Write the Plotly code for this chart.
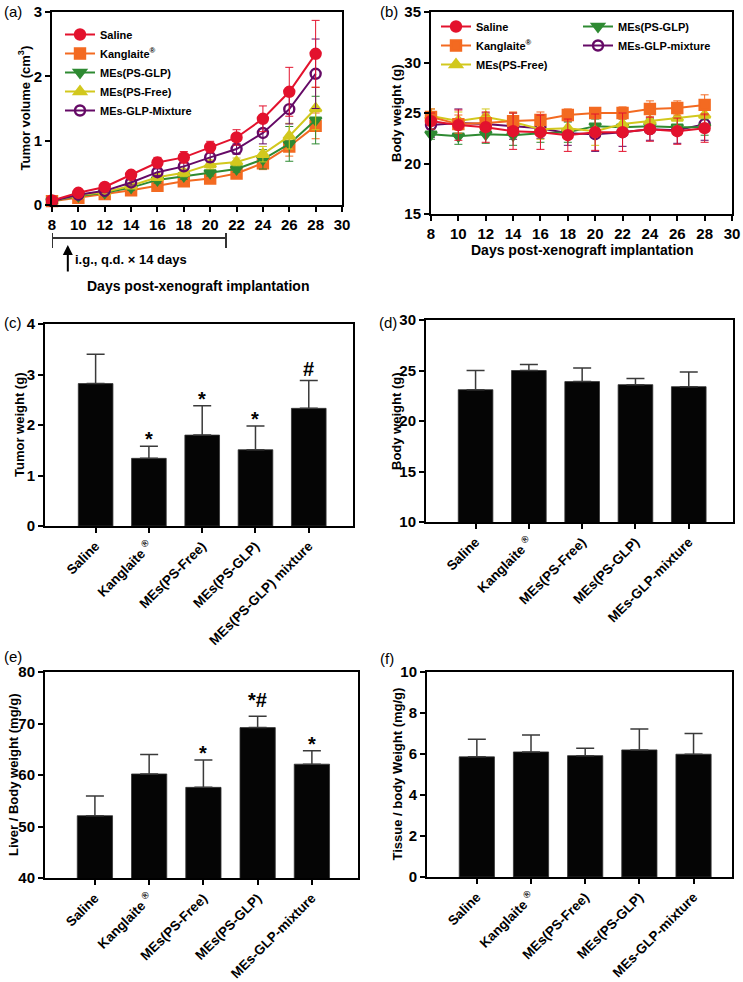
import plotly.graph_objects as go

# ---------------- data ----------------
days = [8, 10, 12, 14, 16, 18, 20, 22, 24, 26, 28]
day_ticks = [8, 10, 12, 14, 16, 18, 20, 22, 24, 26, 28, 30]

# (a) tumor volume (cm3)
vol_saline = [0.07, 0.19, 0.28, 0.47, 0.66, 0.74, 0.90, 1.05, 1.34, 1.76, 2.35]
vol_saline_err = [0.02, 0.03, 0.04, 0.05, 0.08, 0.09, 0.09, 0.12, 0.20, 0.38, 0.52]
vol_kang = [0.06, 0.11, 0.17, 0.23, 0.30, 0.37, 0.41, 0.49, 0.65, 0.91, 1.23]
vol_kang_err = [0.02, 0.02, 0.03, 0.03, 0.04, 0.04, 0.04, 0.05, 0.10, 0.15, 0.20]
vol_glp = [0.06, 0.14, 0.19, 0.27, 0.39, 0.45, 0.50, 0.56, 0.71, 0.95, 1.32]
vol_glp_err = [0.02, 0.02, 0.03, 0.04, 0.05, 0.05, 0.05, 0.05, 0.15, 0.27, 0.37]
vol_free = [0.06, 0.15, 0.20, 0.30, 0.43, 0.50, 0.63, 0.67, 0.79, 1.07, 1.50]
vol_free_err = [0.02, 0.02, 0.03, 0.04, 0.05, 0.06, 0.07, 0.06, 0.12, 0.20, 0.33]
vol_mix = [0.06, 0.16, 0.22, 0.35, 0.51, 0.60, 0.74, 0.87, 1.12, 1.49, 2.04]
vol_mix_err = [0.02, 0.02, 0.03, 0.04, 0.05, 0.06, 0.07, 0.08, 0.17, 0.23, 0.54]

# (b) body weight (g)
bw_saline = [24.2, 23.8, 23.6, 23.2, 23.1, 22.8, 23.1, 23.1, 23.4, 23.2, 23.5]
bw_saline_err = [0.8, 1.5, 1.5, 1.8, 1.7, 1.6, 1.8, 1.9, 1.2, 1.3, 1.4]
bw_kang = [24.6, 23.9, 24.0, 24.2, 24.3, 24.8, 25.0, 25.0, 25.4, 25.5, 25.8]
bw_kang_err = [0.8, 0.9, 0.8, 0.9, 0.8, 0.6, 0.5, 0.6, 0.8, 0.7, 1.0]
bw_glp = [22.9, 22.7, 22.9, 22.8, 23.0, 23.1, 23.7, 23.6, 23.7, 23.6, 23.6]
bw_glp_err = [0.5, 0.8, 0.9, 1.0, 0.9, 1.0, 0.7, 0.8, 0.7, 0.8, 0.8]
bw_free = [24.7, 24.2, 24.6, 24.1, 23.4, 23.5, 23.2, 23.9, 24.2, 24.5, 24.8]
bw_free_err = [0.7, 0.9, 0.8, 0.9, 1.0, 1.0, 1.4, 1.0, 0.9, 0.8, 0.9]
bw_mix = [23.8, 24.0, 23.9, 23.7, 23.5, 23.0, 22.9, 23.1, 23.4, 23.3, 23.9]
bw_mix_err = [1.2, 1.4, 1.1, 1.3, 1.0, 1.2, 1.7, 1.4, 1.1, 1.3, 1.6]

# bar panels
cats_c = ["Saline", "Kanglaite <sup>®</sup>", "MEs(PS-Free)", "MEs(PS-GLP)", "MEs(PS-GLP) mixture"]
cats_def = ["Saline", "Kanglaite <sup>®</sup>", "MEs(PS-Free)", "MEs(PS-GLP)", "MEs-GLP-mixture"]

tumor_w = [2.82, 1.34, 1.80, 1.51, 2.33]
tumor_w_err = [0.58, 0.24, 0.58, 0.47, 0.55]
tumor_w_sig = ["", "*", "*", "*", "#"]

body_w = [23.1, 25.0, 23.9, 23.6, 23.4]
body_w_err = [1.9, 0.6, 1.35, 0.6, 1.45]

liver_r = [52.1, 60.2, 57.6, 69.2, 62.1]
liver_r_err = [3.8, 3.8, 5.3, 2.2, 2.6]
liver_sig = ["", "", "*", "*#", "*"]

tissue_r = [5.86, 6.10, 5.92, 6.20, 5.99]
tissue_r_err = [0.86, 0.83, 0.36, 1.02, 1.01]

# y tick values
yt_a = [0, 1, 2, 3]
yt_b = [15, 20, 25, 30, 35]
yt_c = [0, 1, 2, 3, 4]
yt_d = [10, 15, 20, 25, 30]
yt_e = [40, 50, 60, 70, 80]
yt_f = [0, 2, 4, 6, 8, 10]

# treatment bracket (days)
treat_start, treat_end, arrow_day = 8, 21.2, 9.2

# ---------------- styling ----------------
W, H = 743, 982
FONT = "Liberation Sans, Arial, sans-serif"
C_SAL, C_KAN, C_GLP, C_FREE, C_MIX = "#E3122D", "#F36A21", "#2E8A32", "#D2C81E", "#650A66"
SIG_SHIFT = {"*": -6, "#": -1, "*#": 3}


def px_x(p):
    return p / W


def px_y(p):
    return 1 - p / H


def bold(vals):
    return ["<b>%s</b>" % v for v in vals]


fig = go.Figure()

series_a = [
    ("Saline", vol_saline, vol_saline_err, C_SAL, "circle"),
    ("Kanglaite<sup>®</sup>", vol_kang, vol_kang_err, C_KAN, "square"),
    ("MEs(PS-GLP)", vol_glp, vol_glp_err, C_GLP, "triangle-down"),
    ("MEs(PS-Free)", vol_free, vol_free_err, C_FREE, "triangle-up"),
    ("MEs-GLP-Mixture", vol_mix, vol_mix_err, C_MIX, "circle-open"),
]
for i in [1, 2, 3, 4, 0]:
    name, y, e, c, sym = series_a[i]
    fig.add_trace(go.Scatter(
        x=days, y=y, name="<b>%s</b>" % name, mode="lines+markers", xaxis="x", yaxis="y",
        line=dict(color=c, width=2),
        marker=dict(symbol=sym, size=10, color=c, line=dict(color=c, width=2.4)),
        error_y=dict(type="data", array=e, color=c, thickness=1, width=4),
        legend="legend", legendrank=i + 1, cliponaxis=False,
    ))

series_b = [
    ("Saline", bw_saline, bw_saline_err, C_SAL, "circle", "legend2"),
    ("Kanglaite<sup>®</sup>", bw_kang, bw_kang_err, C_KAN, "square", "legend2"),
    ("MEs(PS-Free)", bw_free, bw_free_err, C_FREE, "triangle-up", "legend2"),
    ("MEs(PS-GLP)", bw_glp, bw_glp_err, C_GLP, "triangle-down", "legend3"),
    ("MEs-GLP-mixture", bw_mix, bw_mix_err, C_MIX, "circle-open", "legend3"),
]
for i in [4, 3, 2, 1, 0]:
    name, y, e, c, sym, lg = series_b[i]
    fig.add_trace(go.Scatter(
        x=days, y=y, name="<b>%s</b>" % name, mode="lines+markers", xaxis="x2", yaxis="y2",
        line=dict(color=c, width=2),
        marker=dict(symbol=sym, size=10, color=c, line=dict(color=c, width=2.4)),
        error_y=dict(type="data", array=e, color=c, thickness=1, width=4),
        legend=lg, legendrank=i + 1, cliponaxis=False,
    ))

bar_panels = [
    ("x3", "y3", cats_c, tumor_w, tumor_w_err),
    ("x4", "y4", cats_def, body_w, body_w_err),
    ("x5", "y5", cats_def, liver_r, liver_r_err),
    ("x6", "y6", cats_def, tissue_r, tissue_r_err),
]
for xa, ya, cats, vals, errs in bar_panels:
    fig.add_trace(go.Bar(
        x=cats, y=vals, xaxis=xa, yaxis=ya, width=0.65, showlegend=False,
        marker=dict(color="#050505", line=dict(color="#333", width=0.8)),
        error_y=dict(type="data", array=errs, arrayminus=[0] * len(errs), symmetric=False,
                     color="#3a3a3a", thickness=1.5, width=9),
    ))

# ---------------- axes ----------------
base = dict(showline=True, linecolor="black", linewidth=2, mirror=True, ticks="outside",
            ticklen=5, tickwidth=2, tickcolor="black", showgrid=False, zeroline=False,
            automargin=False,
            tickfont=dict(family=FONT, size=15, color="black"))
catfont = dict(family=FONT, size=13.5, color="black")


def num_axis(domain, rng, vals, anchor):
    return dict(base, domain=domain, range=rng, tickmode="array", tickvals=vals,
                ticktext=bold(vals), anchor=anchor)


def cat_axis(domain, rng, cats, anchor):
    return dict(base, domain=domain, range=rng, tickmode="array", tickvals=cats,
                ticktext=bold(cats), tickangle=-45, tickfont=catfont, anchor=anchor)


layout = dict(
    template="none",
    width=W, height=H, margin=dict(l=0, r=0, t=0, b=0, pad=0), autosize=False,
    paper_bgcolor="white", plot_bgcolor="white", showlegend=True,
    font=dict(family=FONT, color="black"),
)
layout["xaxis"] = num_axis([px_x(52), px_x(342)], [8, 30], day_ticks, "y")
layout["yaxis"] = num_axis([px_y(205), px_y(12)], [0, 3], yt_a, "x")
layout["xaxis2"] = num_axis([px_x(431), px_x(732)], [8, 30], day_ticks, "y2")
layout["yaxis2"] = num_axis([px_y(214), px_y(12)], [15, 35], yt_b, "x2")
layout["xaxis3"] = cat_axis([px_x(45), px_x(353)], [-0.95, 4.83], cats_c, "y3")
layout["yaxis3"] = num_axis([px_y(526), px_y(324)], [0, 4], yt_c, "x3")
layout["xaxis4"] = cat_axis([px_x(426), px_x(733)], [-0.93, 4.83], cats_def, "y4")
layout["yaxis4"] = num_axis([px_y(522), px_y(320)], [10, 30], yt_d, "x4")
layout["xaxis5"] = cat_axis([px_x(45), px_x(358)], [-0.92, 4.85], cats_def, "y5")
layout["yaxis5"] = num_axis([px_y(878), px_y(672)], [40, 80], yt_e, "x5")
layout["xaxis6"] = cat_axis([px_x(427), px_x(732)], [-0.92, 4.71], cats_def, "y6")
layout["yaxis6"] = num_axis([px_y(877), px_y(672)], [0, 10], yt_f, "x6")

legfont = dict(family=FONT, size=11, color="black")
layout["legend"] = dict(x=px_x(60), y=px_y(20), xanchor="left", yanchor="top", font=legfont,
                        bgcolor="rgba(0,0,0,0)", itemwidth=30, tracegroupgap=0)
layout["legend2"] = dict(x=px_x(436), y=px_y(12), xanchor="left", yanchor="top", font=legfont,
                         bgcolor="rgba(0,0,0,0)", itemwidth=30)
layout["legend3"] = dict(x=px_x(578), y=px_y(12), xanchor="left", yanchor="top", font=legfont,
                         bgcolor="rgba(0,0,0,0)", itemwidth=30)
fig.update_layout(**layout)

# ---------------- annotations ----------------
ann = []
tfont = dict(family=FONT, size=13, color="black")


def ytitle(text, xpix, ytop, ybot):
    ann.append(dict(text="<b>%s</b>" % text, xref="paper", yref="paper", x=px_x(xpix),
                    y=px_y((ytop + ybot) / 2), textangle=-90, showarrow=False, font=tfont,
                    xanchor="center", yanchor="middle"))


ytitle("Tumor volume (cm<sup>3</sup>)", 24, 12, 205)
ytitle("Body weight (g)", 396, 12, 214)
ytitle("Tumor weight (g)", 20, 324, 526)
ytitle("Body weight (g)", 396, 320, 522)
ytitle("Liver / Body weight (mg/g)", 13, 672, 878)
ytitle("Tissue / body Weight (mg/g)", 397, 672, 877)

ann.append(dict(text="<b>Days post-xenograft implantation</b>", xref="paper", yref="paper", x=px_x(198),
                y=px_y(286), showarrow=False, font=dict(family=FONT, size=14, color="black"),
                xanchor="center", yanchor="middle"))
ann.append(dict(text="<b>Days post-xenograft implantation</b>", xref="paper", yref="paper", x=px_x(582),
                y=px_y(250), showarrow=False, font=dict(family=FONT, size=14, color="black"),
                xanchor="center", yanchor="middle"))
ann.append(dict(text="<b>i.g., q.d. × 14 days</b>", xref="paper", yref="paper", x=px_x(73), y=px_y(259),
                showarrow=False, font=dict(family=FONT, size=13, color="black"),
                xanchor="left", yanchor="middle"))
ann.append(dict(text="", xref="x", yref="paper", x=arrow_day, y=px_y(245), ax=0, ay=28,
                showarrow=True, arrowhead=2, arrowsize=1, arrowwidth=2, arrowcolor="black"))

for lab, xp, yp in [("(a)", 2, 11), ("(b)", 378, 11), ("(c)", 2, 322), ("(d)", 377, 322),
                    ("(e)", 2, 656), ("(f)", 378, 658)]:
    ann.append(dict(text=lab, xref="paper", yref="paper", x=px_x(xp), y=px_y(yp), showarrow=False,
                    font=dict(family=FONT, size=15, color="black"), xanchor="left", yanchor="middle"))

for xa, ya, cats, vals, errs, sig in [("x3", "y3", cats_c, tumor_w, tumor_w_err, tumor_w_sig),
                                      ("x5", "y5", cats_def, liver_r, liver_r_err, liver_sig)]:
    for c, v, e, s in zip(cats, vals, errs, sig):
        if s:
            ann.append(dict(text="<b>%s</b>" % s, xref=xa, yref=ya, x=c, y=v + e, showarrow=False,
                            yanchor="bottom", yshift=SIG_SHIFT[s],
                            font=dict(family=FONT, size=20, color="black")))

fig.update_layout(annotations=ann)

# treatment bracket under panel (a)
bracket_y, tick_top, tick_bot = px_y(238), px_y(233), px_y(248)
fig.add_shape(type="line", xref="x", yref="paper", x0=treat_start, x1=treat_end, y0=bracket_y, y1=bracket_y,
              line=dict(color="#333", width=2))
for xv in [treat_start, treat_end]:
    fig.add_shape(type="line", xref="x", yref="paper", x0=xv, x1=xv, y0=tick_bot, y1=tick_top,
                  line=dict(color="#333", width=2))

fig.write_html("out.html", config={"displayModeBar": False},
               post_script="document.body.style.margin='0px';")
